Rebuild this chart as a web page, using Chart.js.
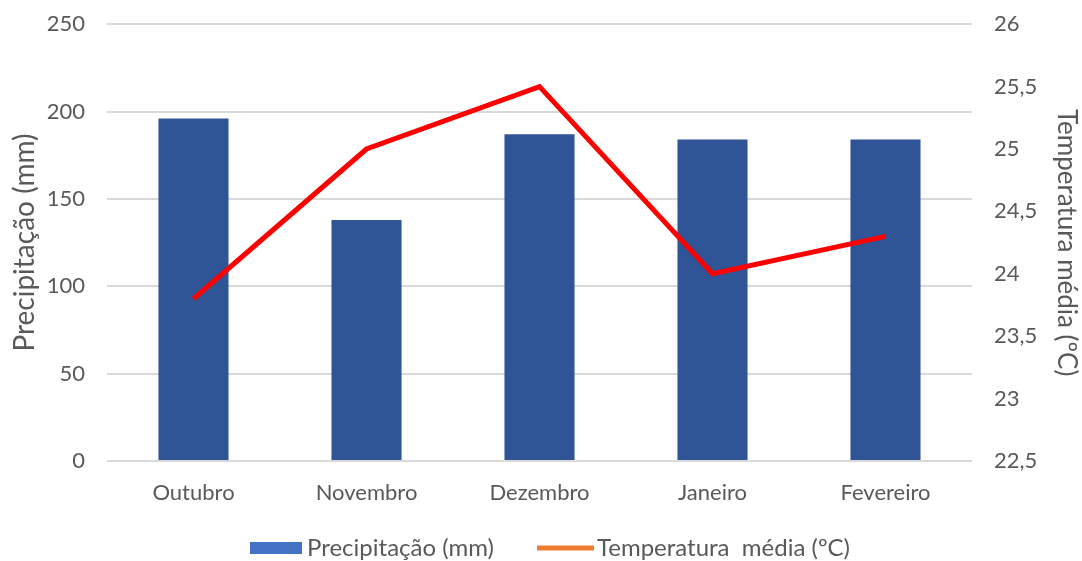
<!DOCTYPE html>
<html>
<head>
<meta charset="utf-8">
<script src="https://cdn.jsdelivr.net/npm/chart.js@4.4.1/dist/chart.umd.min.js"></script>
<style>
html,body{margin:0;padding:0;background:#fff;overflow:hidden;}
#wrap{width:1082px;height:561px;overflow:hidden;position:relative;}
#c{position:absolute;left:0;top:-11px;}
</style>
</head>
<body>
<div id="wrap"><canvas id="c" width="1082" height="572"></canvas></div>
<script>
const categories = ["Outubro", "Novembro", "Dezembro", "Janeiro", "Fevereiro"];
const precipitacao = [196, 138, 187, 184, 184];
const temperatura = [23.8, 25.0, 25.5, 24.0, 24.3];
const seriesNames = ["Precipitação (mm)", "Temperatura  média (ºC)"];
const leftTitle = "Precipitação (mm)";
const rightTitle = "Temperatura média (ºC)";

const FONT = "Lato, 'Open Sans', sans-serif";
const GREY = "#595959";

const legendPlugin = {
  id: "customLegend",
  afterDraw(chart) {
    const ctx = chart.ctx;
    ctx.save();
    ctx.font = "24px " + FONT;
    ctx.textBaseline = "middle";
    const y = 559;
    ctx.fillStyle = "#4472C4";
    ctx.fillRect(250, y - 6, 52, 12);
    ctx.fillStyle = GREY;
    ctx.fillText(seriesNames[0], 307, y);
    ctx.strokeStyle = "#ED7D31";
    ctx.lineWidth = 5;
    ctx.beginPath();
    ctx.moveTo(537, y);
    ctx.lineTo(594, y);
    ctx.stroke();
    ctx.fillText(seriesNames[1], 597, y);
    ctx.restore();
  }
};

new Chart(document.getElementById("c"), {
  data: {
    labels: categories,
    datasets: [
      {
        type: "line",
        label: seriesNames[1],
        data: temperatura,
        yAxisID: "y1",
        borderColor: "#FF0000",
        backgroundColor: "#FF0000",
        borderWidth: 5,
        pointRadius: 0,
        tension: 0,
        order: 0
      },
      {
        type: "bar",
        label: seriesNames[0],
        data: precipitacao,
        yAxisID: "y",
        backgroundColor: "#2F5597",
        borderWidth: 0,
        categoryPercentage: 1.0,
        barPercentage: 0.405,
        order: 1
      }
    ]
  },
  options: {
    responsive: false,
    animation: false,
    layout: { padding: { top: 12, bottom: 44, left: 0, right: 0 } },
    plugins: {
      legend: { display: false },
      tooltip: { enabled: false }
    },
    scales: {
      x: {
        grid: { display: false },
        border: { display: false },
        ticks: { color: GREY, font: { size: 22, family: FONT }, padding: 11 },
        afterFit(s) { s.height = 56; }
      },
      y: {
        position: "left",
        min: 0, max: 250,
        ticks: { stepSize: 50, color: GREY, font: { size: 22, family: FONT }, padding: 22 },
        grid: { color: "#D9D9D9", lineWidth: 2, drawTicks: false },
        border: { display: false },
        title: { display: true, text: leftTitle, color: GREY, font: { size: 28, family: FONT }, padding: { top: 8, bottom: 0 } },
        afterFit(s) { s.width = 107; }
      },
      y1: {
        position: "right",
        min: 22.5, max: 26,
        ticks: {
          stepSize: 0.5, color: GREY, font: { size: 22, family: FONT }, padding: 22,
          callback: v => String(v).replace(".", ",")
        },
        grid: { display: false, drawTicks: false },
        border: { display: false },
        title: { display: true, text: rightTitle, color: GREY, font: { size: 26, family: FONT }, padding: 0 },
        afterFit(s) { s.width = 110; }
      }
    }
  },
  plugins: [legendPlugin]
});
</script>
</body>
</html>
